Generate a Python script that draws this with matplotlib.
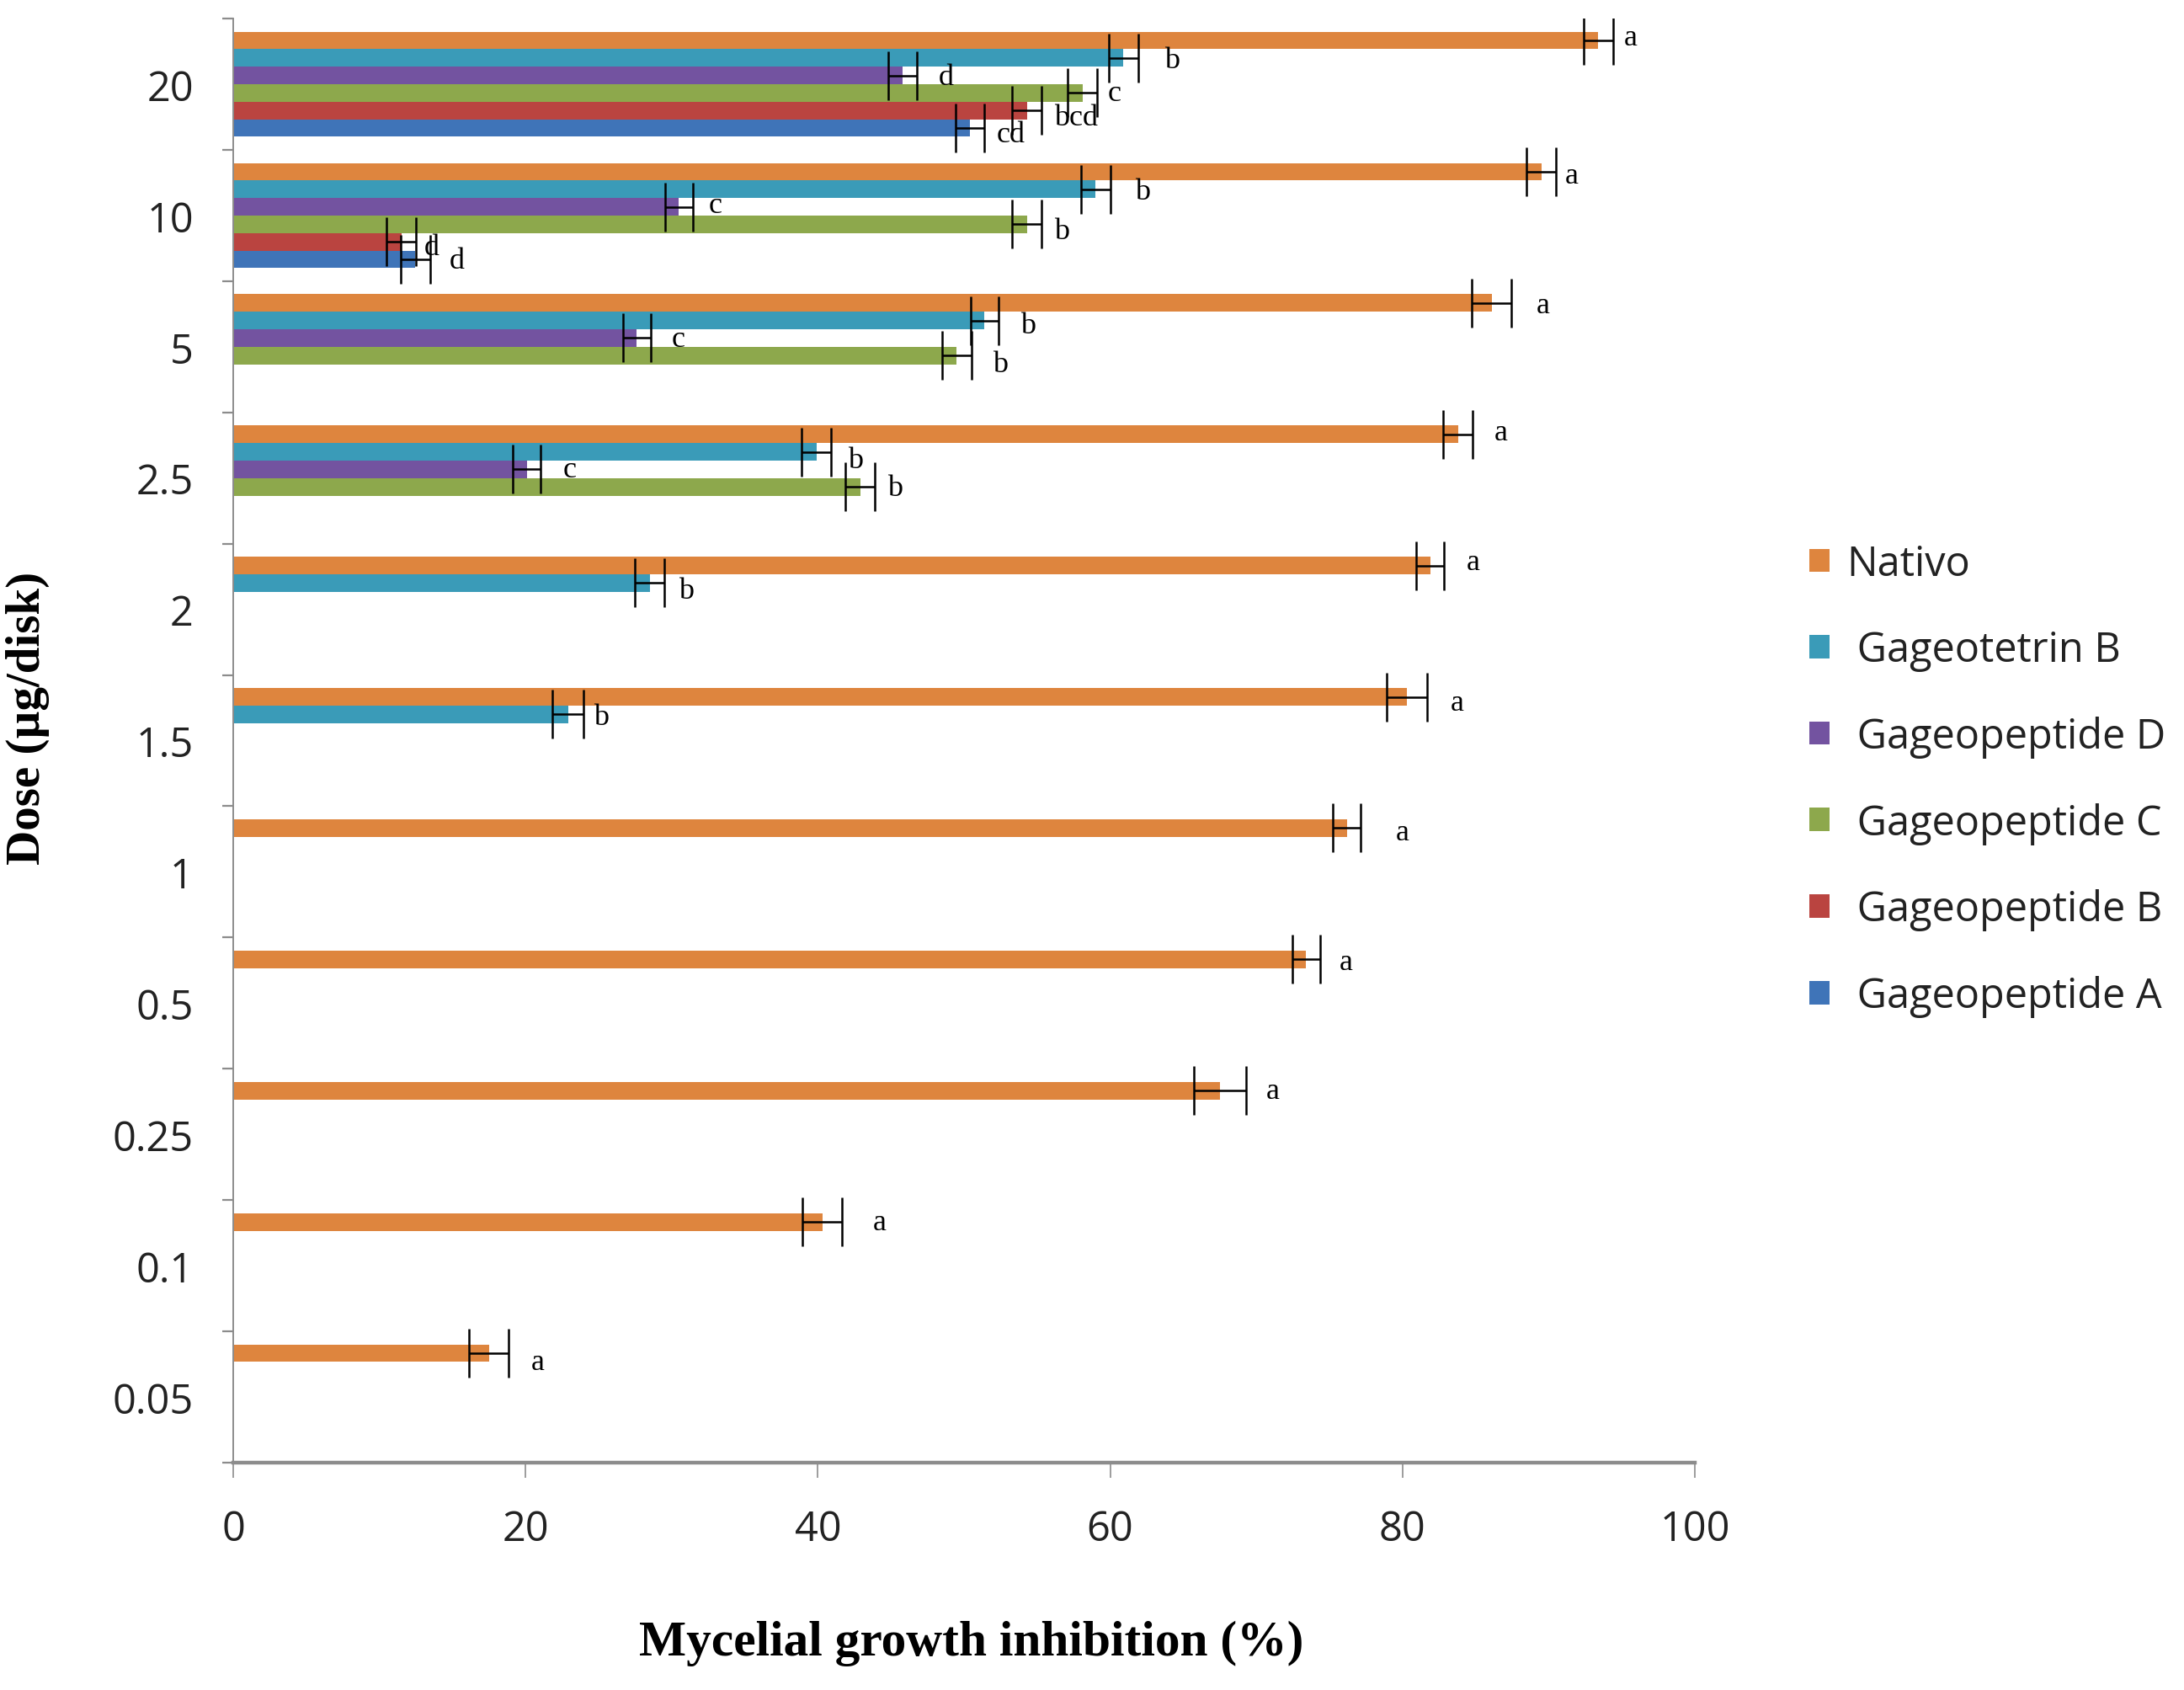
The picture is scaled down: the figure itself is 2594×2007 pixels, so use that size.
import numpy as np
import matplotlib
matplotlib.use("Agg")
import matplotlib.pyplot as plt
from matplotlib.patches import Patch

nan = np.nan

# categories (top to bottom)
doses = ['20', '10', '5', '2.5', '2', '1.5', '1', '0.5', '0.25', '0.1', '0.05']

# series, in legend order (top bar of each group first)
names = ['Nativo', ' Gageotetrin B', ' Gageopeptide D', ' Gageopeptide C',
         ' Gageopeptide B', ' Gageopeptide A']

nativo = [93.4, 89.5, 86.1, 83.8, 81.9, 80.3, 76.2, 73.4, 67.5, 40.3, 17.5]
nativo_err = [1.0, 1.0, 1.35, 1.0, 0.95, 1.4, 0.95, 0.95, 1.8, 1.35, 1.35]
nativo_let = ['a'] * 11

gtb = [60.9, 59.0, 51.4, 39.9, 28.5, 22.9, nan, nan, nan, nan, nan]
gtb_err = [1.0, 1.0, 0.95, 1.0, 1.0, 1.05, nan, nan, nan, nan, nan]
gtb_let = ['b', 'b', 'b', 'b', 'b', 'b']

gpd = [45.8, 30.5, 27.6, 20.1, nan, nan, nan, nan, nan, nan, nan]
gpd_err = [1.0, 0.95, 0.95, 0.95, nan, nan, nan, nan, nan, nan, nan]
gpd_let = ['d', 'c', 'c', 'c']

gpc = [58.1, 54.3, 49.5, 42.9, nan, nan, nan, nan, nan, nan, nan]
gpc_err = [1.0, 1.0, 1.0, 1.0, nan, nan, nan, nan, nan, nan, nan]
gpc_let = ['c', 'b', 'b', 'b']

gpb = [54.3, 11.5, nan, nan, nan, nan, nan, nan, nan, nan, nan]
gpb_err = [1.0, 1.0, nan, nan, nan, nan, nan, nan, nan, nan, nan]
gpb_let = ['bcd', 'd']

gpa = [50.4, 12.45, nan, nan, nan, nan, nan, nan, nan, nan, nan]
gpa_err = [1.0, 1.0, nan, nan, nan, nan, nan, nan, nan, nan, nan]
gpa_let = ['cd', 'd']

values = [nativo, gtb, gpd, gpc, gpb, gpa]
errors = [nativo_err, gtb_err, gpd_err, gpc_err, gpb_err, gpa_err]
letters = [nativo_let, gtb_let, gpd_let, gpc_let, gpb_let, gpa_let]

# letter placement as in the original: gap after the error bar (x units)
# and a small downward shift (fraction of one category band)
let_gap = [
    [0.75, 0.6, 1.7, 1.45, 1.5, 1.6, 2.4, 1.3, 1.35, 2.1, 1.55],
    [1.8, 1.7, 1.5, 1.15, 0.95, 0.7],
    [1.45, 1.05, 1.45, 1.5],
    [0.75, 0.85, 1.45, 0.85],
    [0.85, 0.55],
    [0.85, 1.35],
]
let_dy = [
    [-0.02, 0.03, 0.02, -0.015, -0.025, 0.045, 0.03, 0.02, 0.0, 0.0, 0.065],
    [0.015, 0.015, 0.04, 0.065, 0.055, 0.02],
    [0.01, -0.01, 0.005, 0.0],
    [0.0, 0.055, 0.065, 0.01],
    [0.055, 0.04],
    [0.045, 0.01],
]

colors = ['#DE853E', '#3A9BB8', '#7353A0', '#8DA84C', '#BA4440', '#3F74B8']
axis_gray = '#8C8C8C'

fig = plt.figure(figsize=(12.97, 10.04), dpi=200)
ax = fig.add_axes([0.1068, 0.1345, 0.6692, 0.854])

n_ser = len(values)
h = 1.0 / (n_ser + 1.5)
ypos = np.arange(len(doses))

for j in range(n_ser):
    v = np.array(values[j], dtype=float)
    e = np.array(errors[j], dtype=float)
    yy = ypos + (j - (n_ser - 1) / 2.0) * h
    ok = ~np.isnan(v)
    ax.barh(yy[ok], v[ok], height=h, color=colors[j], edgecolor='none', zorder=2)
    ax.errorbar(v[ok], yy[ok], xerr=e[ok], fmt='none', ecolor='black',
                elinewidth=0.9, capsize=10.5, capthick=0.9, zorder=3)
    for k, lab in enumerate(letters[j]):
        ax.text(v[k] + e[k] + let_gap[j][k], yy[k] + let_dy[j][k], lab,
                ha='left', va='center', fontsize=13, family='Liberation Serif',
                color='black', zorder=4)

ax.set_xlim(0, 100)
ax.set_ylim(len(doses) - 0.5, -0.5)

ax.set_xticks(np.arange(0, 101, 20))
ax.set_yticks(ypos)
ax.set_yticklabels(doses)
ax.set_yticks(np.arange(-0.5, len(doses), 1), minor=True)

ax.tick_params(axis='x', which='major', direction='out', length=6.5, width=0.6,
               color=axis_gray, pad=13, labelsize=17.5, labelcolor='#222222')
ax.tick_params(axis='y', which='major', length=0, pad=17, labelsize=17.5,
               labelcolor='#222222')
ax.tick_params(axis='y', which='minor', direction='out', length=4.7, width=0.8,
               color=axis_gray)
for lab in ax.get_xticklabels() + ax.get_yticklabels():
    lab.set_family('Open Sans')

for s in ['top', 'right']:
    ax.spines[s].set_visible(False)
ax.spines['left'].set_color(axis_gray)
ax.spines['left'].set_linewidth(0.7)
ax.spines['bottom'].set_color(axis_gray)
ax.spines['bottom'].set_linewidth(1.6)

ax.set_xlabel('Mycelial growth inhibition (%)', family='Liberation Serif',
              fontweight='bold', fontsize=21.4)
ax.xaxis.set_label_coords(0.505, -0.125)
ax.xaxis.label.set_va('center')
ax.set_ylabel('Dose (µg/disk)', family='Liberation Serif', fontweight='bold',
              fontsize=20.5)
ax.yaxis.set_label_coords(-0.1406, 0.516)
ax.yaxis.label.set_va('center')

handles = [Patch(facecolor=c, edgecolor='none') for c in colors]
leg = fig.legend(handles, names, loc='center left', bbox_to_anchor=(0.8285, 0.538),
                 frameon=False, borderpad=0, borderaxespad=0,
                 handlelength=0.5, handleheight=0.5, handletextpad=0.4,
                 labelspacing=1.085, prop={'family': 'Open Sans', 'size': 17.5})
for t in leg.get_texts():
    t.set_color('#222222')

fig.savefig('out.png', dpi=200, facecolor='white')
